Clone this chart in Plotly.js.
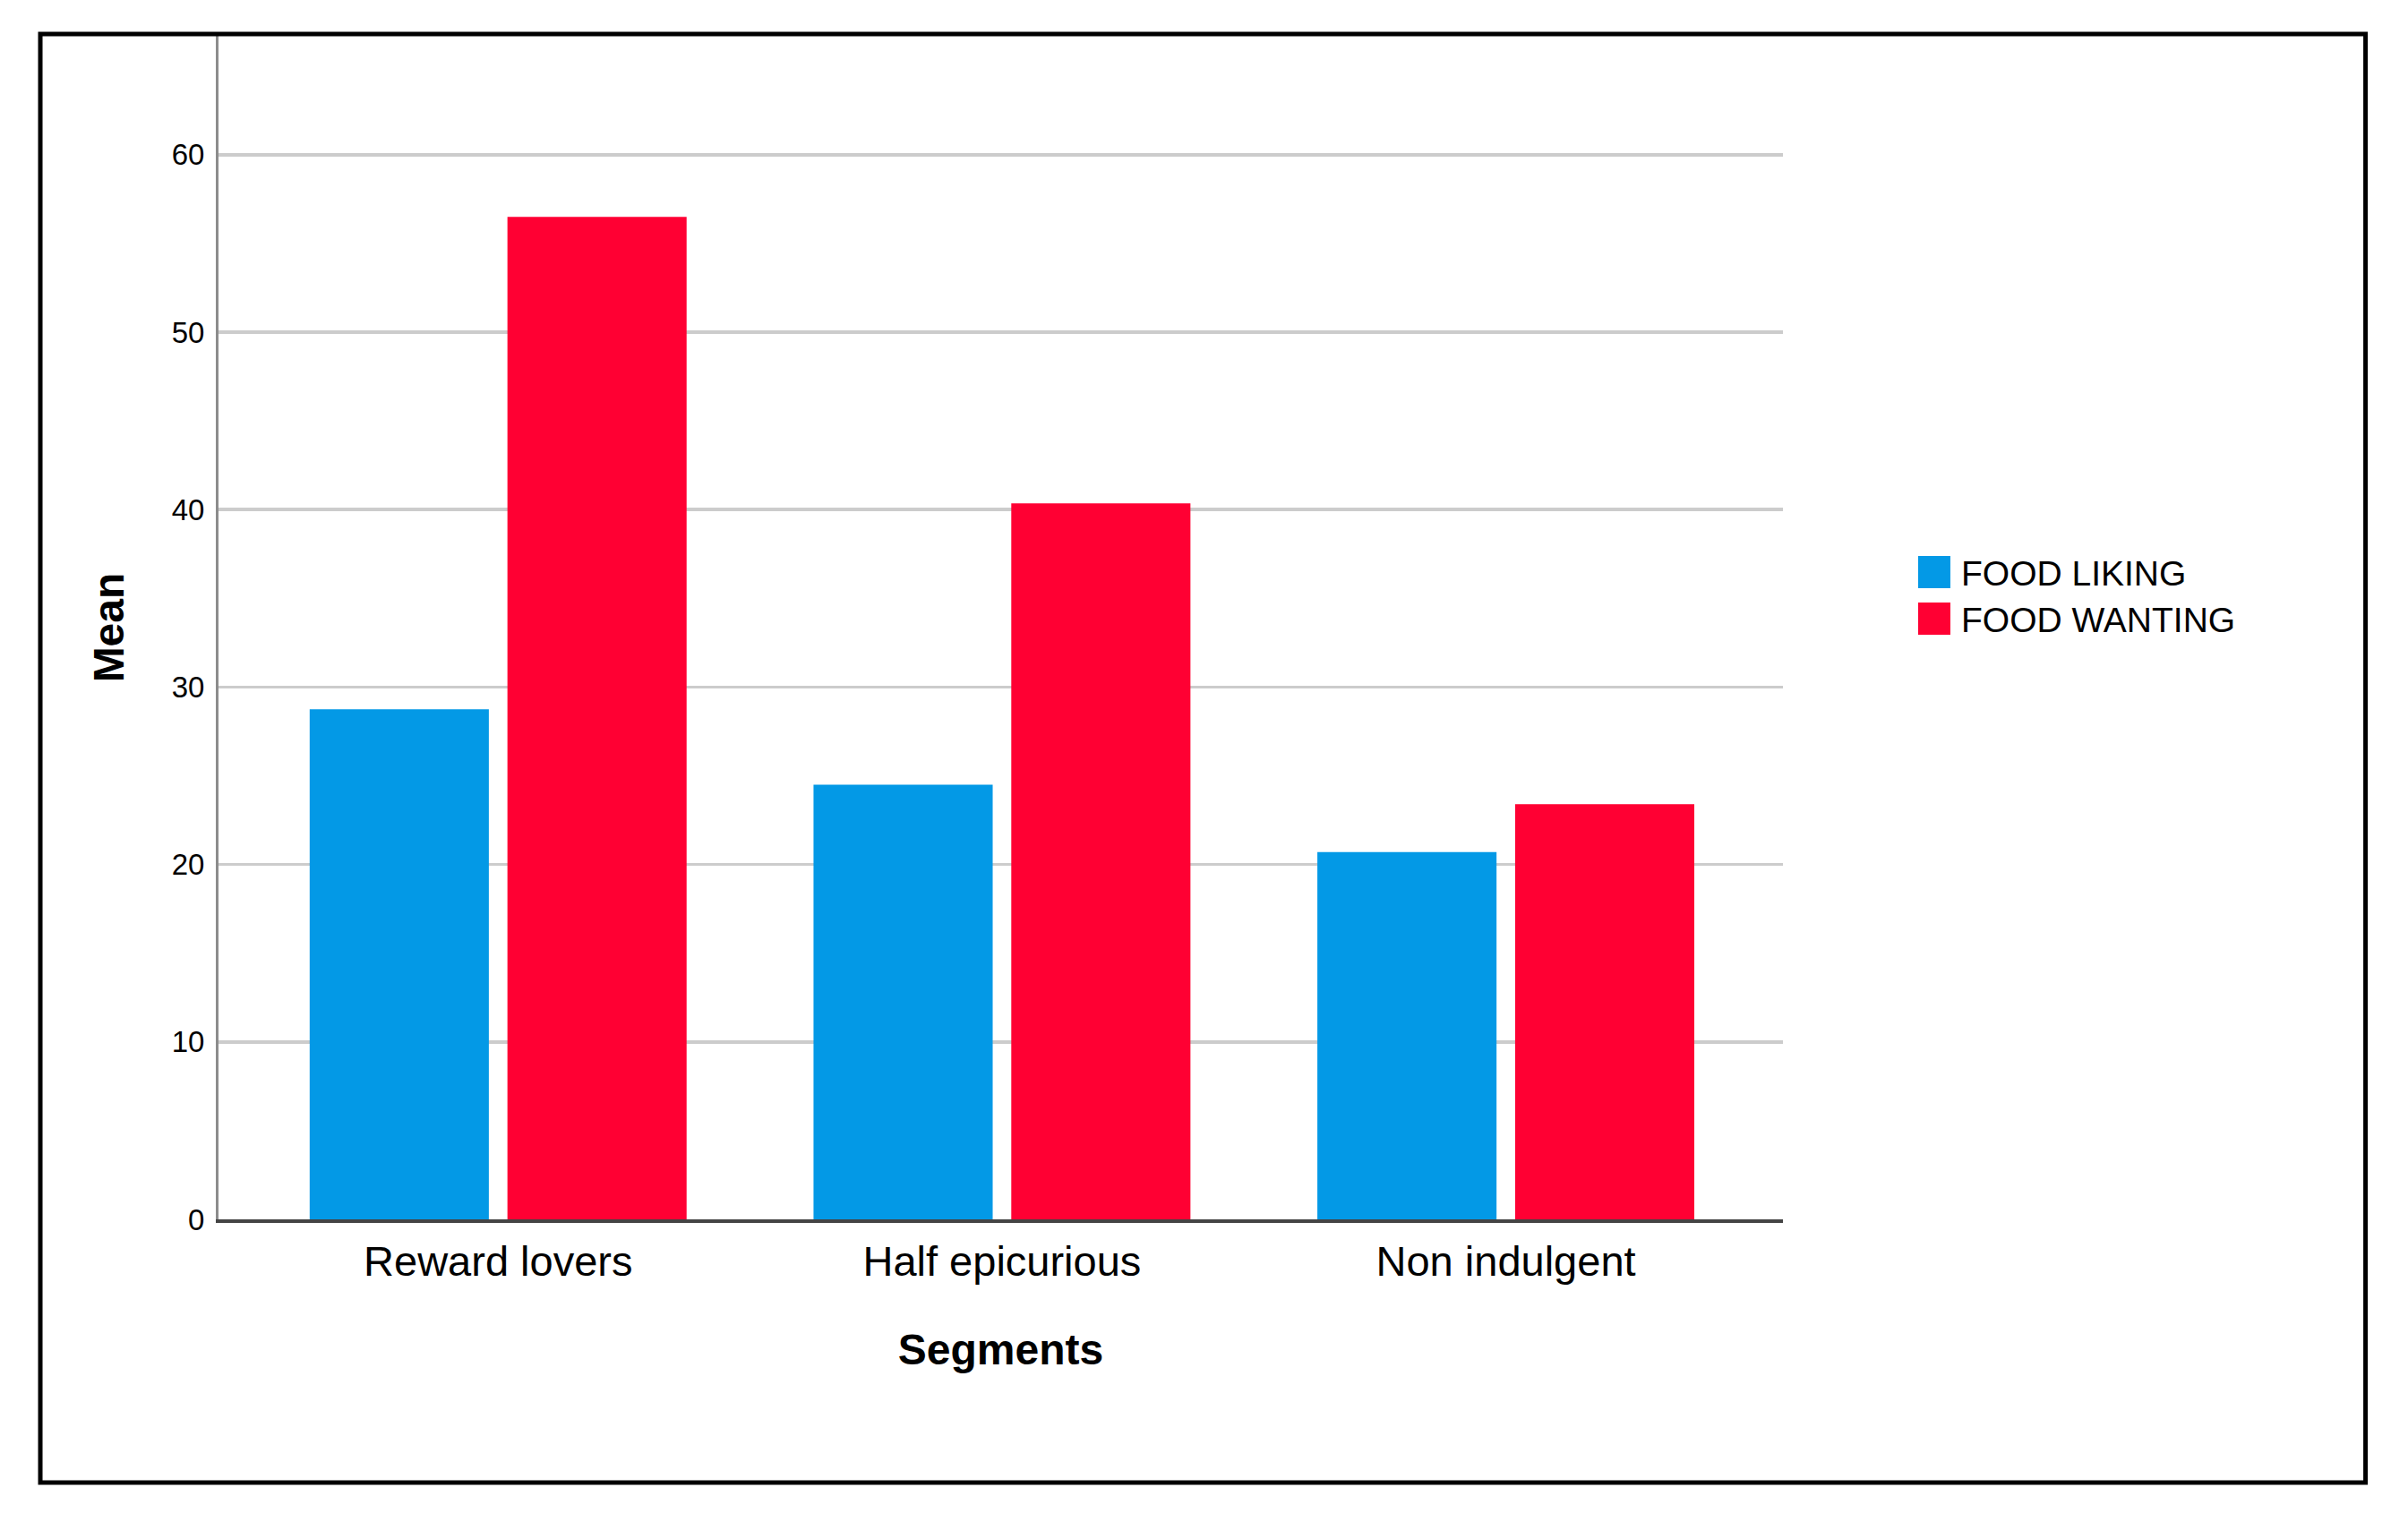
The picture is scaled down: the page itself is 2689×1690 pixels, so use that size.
<!DOCTYPE html>
<html><head><meta charset="utf-8">
<script src="https://cdn.plot.ly/plotly-3.0.1.min.js"></script>
<style>html,body{margin:0;padding:0;background:#fff}#chart{width:2689px;height:1690px}</style>
</head><body><div id="chart"></div>
<script>
const segments = ['Reward lovers', 'Half epicurious', 'Non indulgent'];
const foodLiking = [28.75, 24.5, 20.7];
const foodWanting = [56.5, 40.35, 23.4];
const seriesNames = ['FOOD LIKING', 'FOOD WANTING'];
const seriesColors = ['#0399e6', '#ff0033'];
const yTicks = [0, 10, 20, 30, 40, 50, 60];

const FONT = 'Liberation Sans, Arial, sans-serif';

const traces = [foodLiking, foodWanting].map((vals, i) => ({
  type: 'bar',
  name: seriesNames[i],
  x: segments,
  y: vals,
  marker: {color: seriesColors[i], line: {width: 0}},
  hoverinfo: 'x+y+name'
}));

const layout = {
  width: 2689, height: 1690,
  margin: {l: 244, r: 698, t: 40, b: 328, pad: 0},
  paper_bgcolor: '#ffffff', plot_bgcolor: '#ffffff',
  font: {family: FONT, color: '#000000'},
  barmode: 'group', bargap: 0.215, bargroupgap: 0.094,
  showlegend: true,
  legend: {
    x: 1.091, xanchor: 'left', y: 0.527, yanchor: 'middle',
    font: {family: FONT, size: 39, color: '#000000'},
    bgcolor: 'rgba(0,0,0,0)', borderwidth: 0, tracegroupgap: 0
  },
  xaxis: {
    type: 'category', range: [-0.555, 2.55],
    showline: true, linecolor: '#444444', linewidth: 4,
    ticks: '', showgrid: false, zeroline: false,
    tickfont: {family: FONT, size: 47, color: '#000000'},
    ticklabelstandoff: 3,
    title: {text: 'Segments', font: {family: FONT, size: 48, color: '#000000', weight: 'bold'}, standoff: 57}
  },
  yaxis: {
    range: [0, 66.7], tickvals: yTicks, ticktext: yTicks.map(String),
    showline: true, linecolor: '#8c8c8c', linewidth: 3,
    ticks: '', showgrid: true, gridcolor: '#cccccc', gridwidth: 3.5, zeroline: false,
    tickfont: {family: FONT, size: 33, color: '#000000'},
    ticklabelstandoff: 6,
    title: {text: 'Mean', font: {family: FONT, size: 48, color: '#000000', weight: 'bold'}, standoff: 38}
  },
  shapes: [{
    type: 'rect', xref: 'paper', yref: 'paper',
    x0: -0.1139, x1: 1.3724, y0: -0.2224, y1: 1.0015,
    line: {color: '#000000', width: 5}, fillcolor: 'rgba(0,0,0,0)', layer: 'above'
  }]
};

Plotly.newPlot('chart', traces, layout, {staticPlot: true, displayModeBar: false}).then(gd => {
  gd.querySelectorAll('.legend .scrollbox, .legend [clip-path]').forEach(el => el.removeAttribute('clip-path'));
  gd.querySelectorAll('.legend .legendpoints path').forEach(p => {
    p.setAttribute('d', 'M8,18H-28V-18H8Z');
  });
  // tighten legend row spacing to match the reference (about 52px per row)
  const items = Array.from(gd.querySelectorAll('.legend .traces'));
  const parsed = items.map(g => {
    const m = /translate\(\s*([-\d.]+)[ ,]+([-\d.]+)\s*\)/.exec(g.getAttribute('transform') || '');
    return m ? [parseFloat(m[1]), parseFloat(m[2])] : null;
  });
  if (parsed.every(Boolean) && parsed.length > 1) {
    const meanY = parsed.reduce((s, p) => s + p[1], 0) / parsed.length;
    const step = 52;
    const start = meanY - step * (parsed.length - 1) / 2;
    items.forEach((g, i) => g.setAttribute('transform', `translate(${parsed[i][0]},${start + i * step})`));
  }
});
</script>
</body></html>
